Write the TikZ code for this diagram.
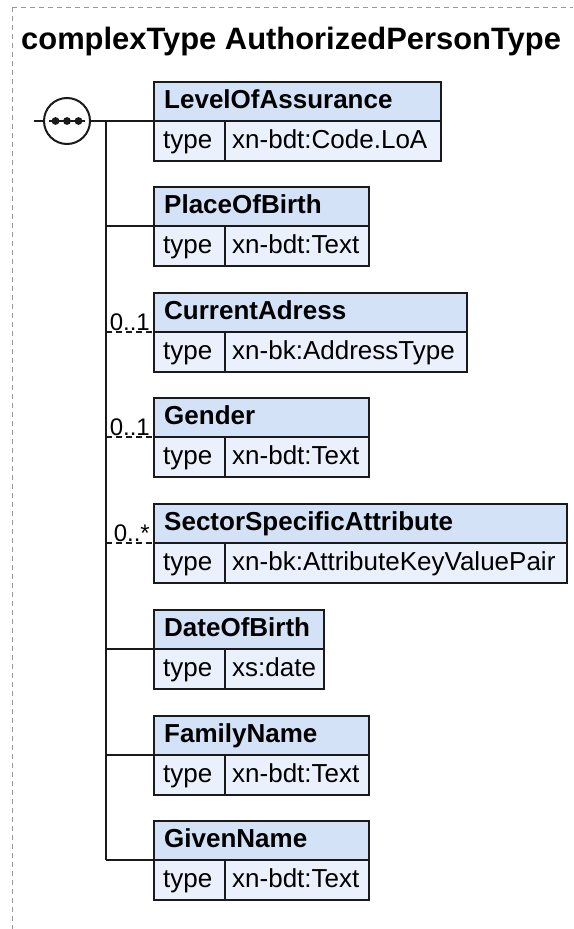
\documentclass[tikz,border=0pt]{standalone}
\usepackage{fontspec}
\setmainfont{Liberation Sans}
\usetikzlibrary{calc}
\definecolor{hdrfill}{HTML}{D4E2F7}
\definecolor{typfill}{HTML}{EAF1FC}
\definecolor{framegray}{HTML}{999999}
\definecolor{edge}{HTML}{1A1A1A}
\newcommand\titlefnt{\fontsize{30.9}{36}\selectfont\bfseries}
\newcommand\hdrfnt{\fontsize{26}{30}\selectfont\bfseries}
\newcommand\typfnt{\fontsize{26}{30}\selectfont}
\newcommand\cardfnt{\fontsize{24}{28}\selectfont}
\begin{document}
\begin{tikzpicture}[x=1pt,y=-1pt,line join=miter,
 hdrbox/.style={draw=edge,line width=2pt,fill=hdrfill,anchor=north west,inner sep=0pt,outer sep=0pt,minimum height=39pt},
 typbox/.style={draw=edge,line width=2pt,fill=typfill,anchor=north west,inner sep=0pt,outer sep=0pt,minimum height=40pt},
 hdrtext/.style={anchor=base west,inner sep=0pt,font=\hdrfnt},
 typtext/.style={anchor=base west,inner sep=0pt,font=\typfnt},
 cardtext/.style={anchor=base east,inner sep=0pt,font=\cardfnt},
 conn/.style={draw=edge,line width=2pt},
 optconn/.style={conn,dash pattern=on 6pt off 4pt},
 frameline/.style={draw=framegray,line width=1pt,dash pattern=on 4.5pt off 4.5pt}]
\useasboundingbox (0,0) rectangle (573,929);
% frame
\coordinate (fc) at (12,7);
\coordinate (fr) at (573,7);
\coordinate (fb) at (12,929);
\draw[frameline] (fc) -- (fr);
\draw[frameline] (fc) -- (fb);
% title
\node[anchor=base west,inner sep=0pt,font=\titlefnt] (title) at (21,49) {complexType AuthorizedPersonType};
% element boxes
\foreach \i/\t/\r/\n/\v in {1/82/441/LevelOfAssurance/xn-bdt:Code.LoA,
  2/187/369/PlaceOfBirth/xn-bdt:Text,
  3/293/467/CurrentAdress/xn-bk:AddressType,
  4/398/369/Gender/xn-bdt:Text,
  5/504/567/SectorSpecificAttribute/xn-bk:AttributeKeyValuePair,
  6/610/324/DateOfBirth/xs:date,
  7/716/369/FamilyName/xn-bdt:Text,
  8/821/369/GivenName/xn-bdt:Text}{
  \node[typbox,minimum width={\r-154}] (t\i) at (154,{\t+39}) {};
  \node[hdrbox,minimum width={\r-154}] (h\i) at (154,\t) {};
  \draw[conn] (224.5,{\t+39}) -- (224.5,{\t+79});
  \node[hdrtext] (hl\i) at (164,{\t+26}) {\n};
  \node[typtext] (tk\i) at (163,{\t+66}) {type};
  \node[typtext] (tv\i) at (232,{\t+66}) {\v};
  \coordinate (b\i) at (106,{\t+39});
}
% sequence compositor
\coordinate (entry) at (34,121);
\node[draw=edge,line width=2pt,circle,minimum size=46pt,inner sep=0pt,outer sep=0pt,fill=white] (seq) at (67,121) {};
\draw[conn] (entry) -- (seq.west);
\draw[conn] (seq.east) -- (h1.south west);
\draw[conn] (49,121) -- (85,121);
\fill[edge] (55.5,121) circle (3.9pt);
\fill[edge] (67,121) circle (3.9pt);
\fill[edge] (78.5,121) circle (3.9pt);
% bus
\draw[conn] (b1) -- (b8);
\draw[conn] (b2) -- (h2.south west);
\draw[optconn] (b3) -- (h3.south west);
\draw[optconn] (b4) -- (h4.south west);
\draw[optconn] (b5) -- (h5.south west);
\draw[conn] (b6) -- (h6.south west);
\draw[conn] (b7) -- (h7.south west);
\draw[conn] (b8) -- (h8.south west);
\node[cardtext] (c3) at (150,330) {0..1};
\node[cardtext] (c4) at (150,435) {0..1};
\node[cardtext] (c5) at (150,541) {0..*};
\end{tikzpicture}
\end{document}
